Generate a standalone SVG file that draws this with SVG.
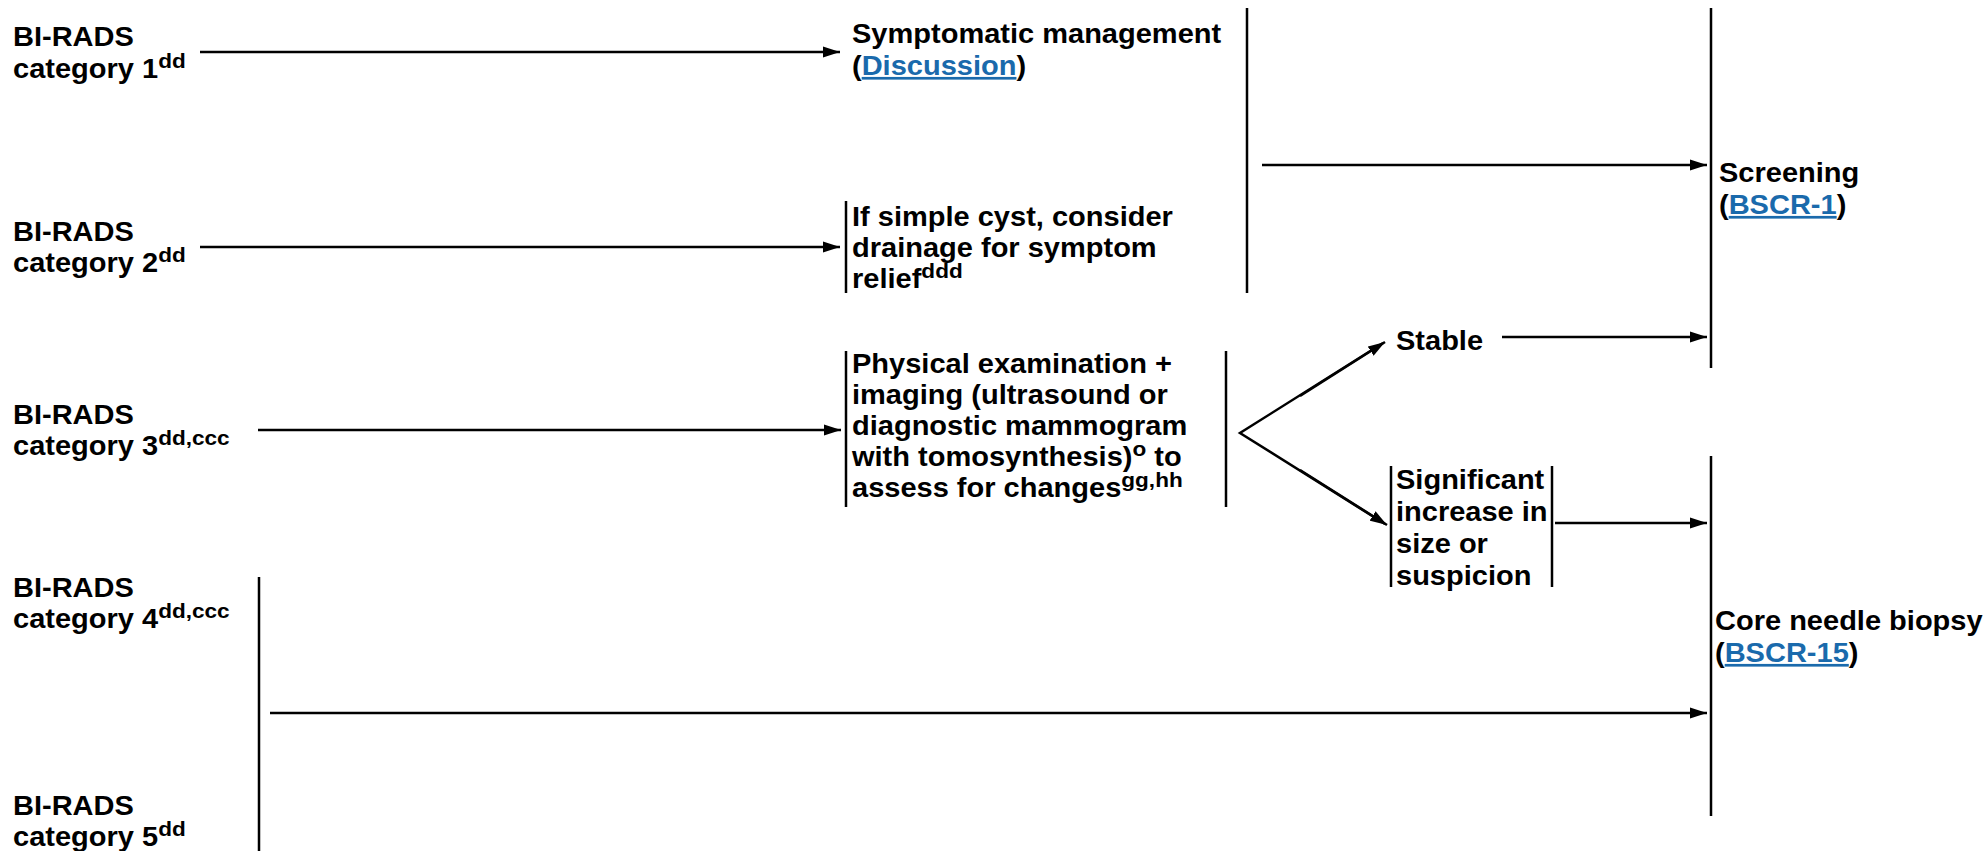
<svg xmlns="http://www.w3.org/2000/svg" width="1988" height="851" viewBox="0 0 1988 851">
<style>
text{font-family:"Liberation Sans",Arial,Helvetica,sans-serif;font-weight:bold;font-size:27px;fill:#000}
.sup{font-size:21px}
.link{fill:#1a6aac;text-decoration:underline}
.ln{stroke:#000;stroke-width:2.5;fill:none}
.ar{stroke:#000;stroke-width:2.5;fill:none;marker-end:url(#ah)}
</style>
<defs>
<marker id="ah" markerUnits="userSpaceOnUse" markerWidth="18" markerHeight="12" refX="17" refY="6" orient="auto">
<path d="M0,0.5 L17,6 L0,11.5 z" fill="#000"/>
</marker>
</defs>
<rect width="1988" height="851" fill="#fff"/>

<g id="cat1"><text transform="translate(13 0) scale(1.075 1)"><tspan x="0" y="46.5">BI-RADS</tspan><tspan x="0" y="78">category 1<tspan class="sup" dy="-10">dd</tspan></tspan></text></g>
<g id="cat2"><text transform="translate(13 0) scale(1.075 1)"><tspan x="0" y="241">BI-RADS</tspan><tspan x="0" y="272.5">category 2<tspan class="sup" dy="-10">dd</tspan></tspan></text></g>
<g id="cat3"><text transform="translate(13 0) scale(1.075 1)"><tspan x="0" y="424">BI-RADS</tspan><tspan x="0" y="455.5">category 3<tspan class="sup" dy="-10">dd,ccc</tspan></tspan></text></g>
<g id="cat4"><text transform="translate(13 0) scale(1.075 1)"><tspan x="0" y="597">BI-RADS</tspan><tspan x="0" y="628.5">category 4<tspan class="sup" dy="-10">dd,ccc</tspan></tspan></text></g>
<g id="cat5"><text transform="translate(13 0) scale(1.075 1)"><tspan x="0" y="815">BI-RADS</tspan><tspan x="0" y="846.5">category 5<tspan class="sup" dy="-10">dd</tspan></tspan></text></g>

<g id="symptomatic"><text transform="translate(852 0) scale(1.075 1)"><tspan x="0" y="43">Symptomatic management</tspan><tspan x="0" y="75">(<tspan class="link">Discussion</tspan>)</tspan></text></g>

<g id="cyst"><line class="ln" x1="846" y1="201" x2="846" y2="293"/><text transform="translate(852 0) scale(1.075 1)"><tspan x="0" y="226">If simple cyst, consider</tspan><tspan x="0" y="257">drainage for symptom</tspan><tspan x="0" y="288">relief<tspan class="sup" dy="-10">ddd</tspan></tspan></text></g>

<g id="physical"><line class="ln" x1="846" y1="351" x2="846" y2="507"/><line class="ln" x1="1226" y1="351" x2="1226" y2="507"/><text transform="translate(852 0) scale(1.075 1)"><tspan x="0" y="373">Physical examination +</tspan><tspan x="0" y="404">imaging (ultrasound or</tspan><tspan x="0" y="435">diagnostic mammogram</tspan><tspan x="0" y="466">with tomosynthesis)<tspan class="sup" dy="-10">o</tspan><tspan dy="10"> to</tspan></tspan><tspan x="0" y="497">assess for changes<tspan class="sup" dy="-10">gg,hh</tspan></tspan></text></g>

<g id="stable"><text transform="translate(1396 0) scale(1.075 1)"><tspan x="0" y="350">Stable</tspan></text></g>

<g id="significant"><line class="ln" x1="1391" y1="466" x2="1391" y2="587"/><line class="ln" x1="1552" y1="466" x2="1552" y2="587"/><text transform="translate(1396 0) scale(1.075 1)"><tspan x="0" y="489">Significant</tspan><tspan x="0" y="521">increase in</tspan><tspan x="0" y="553">size or</tspan><tspan x="0" y="585">suspicion</tspan></text></g>

<g id="screening"><line class="ln" x1="1711" y1="8" x2="1711" y2="368"/><text transform="translate(1719 0) scale(1.075 1)"><tspan x="0" y="182">Screening</tspan><tspan x="0" y="214">(<tspan class="link">BSCR-1</tspan>)</tspan></text></g>

<g id="biopsy"><line class="ln" x1="1711" y1="456" x2="1711" y2="816"/><text transform="translate(1715 0) scale(1.075 1)"><tspan x="0" y="630">Core needle biopsy</tspan><tspan x="0" y="662">(<tspan class="link">BSCR-15</tspan>)</tspan></text></g>

<g id="connectors">
<line class="ar" x1="200" y1="52" x2="840" y2="52"/>
<line class="ar" x1="200" y1="247" x2="840" y2="247"/>
<line class="ar" x1="258" y1="430" x2="841" y2="430"/>
<line class="ln" x1="1247" y1="8" x2="1247" y2="293"/>
<line class="ar" x1="1262" y1="165" x2="1707" y2="165"/>
<line class="ln" x1="259" y1="577" x2="259" y2="851"/>
<line class="ar" x1="270" y1="713" x2="1707" y2="713"/>
<polyline class="ln" points="1383,343 1240,433 1385,524"/>
<line class="ar" x1="1300" y1="396" x2="1385" y2="342"/>
<line class="ar" x1="1300" y1="470" x2="1387" y2="525"/>
<line class="ar" x1="1502" y1="337" x2="1707" y2="337"/>
<line class="ar" x1="1555" y1="523" x2="1707" y2="523"/>
</g>
</svg>
